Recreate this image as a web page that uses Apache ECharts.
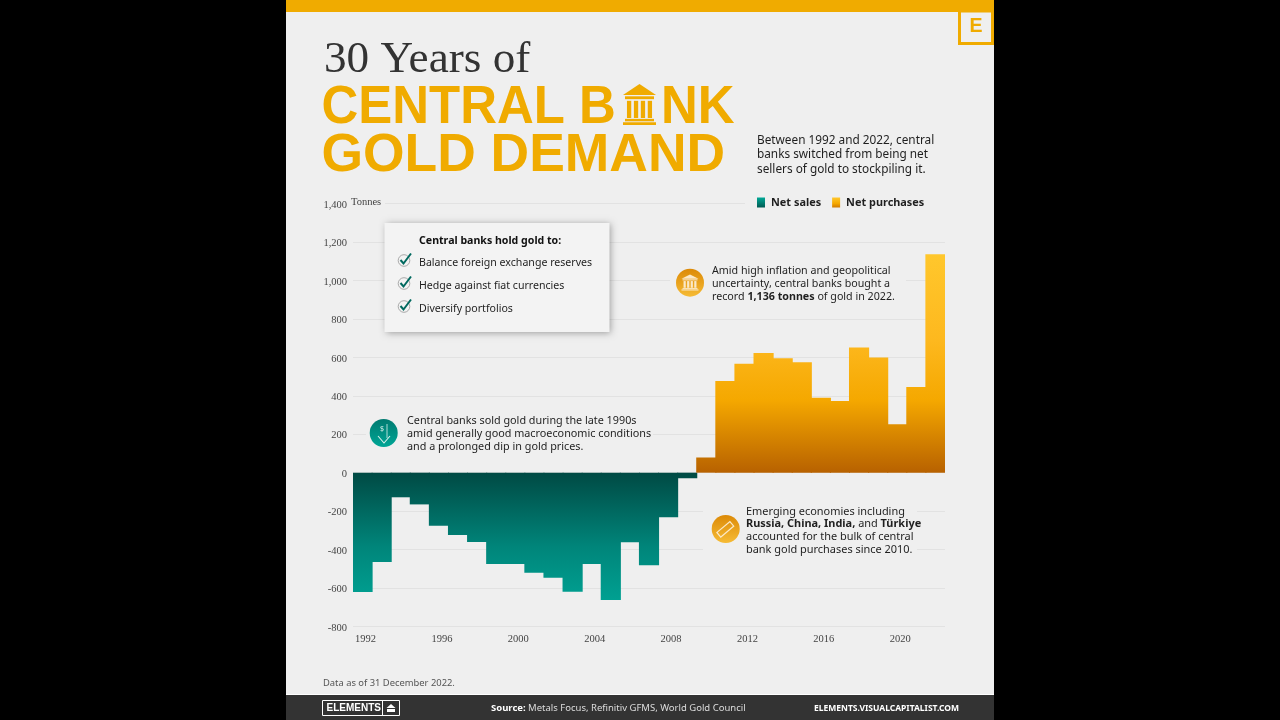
<!DOCTYPE html>
<html><head><meta charset="utf-8">
<style>html,body{margin:0;padding:0;background:#000;width:1280px;height:720px;overflow:hidden}#c{width:1280px;height:720px}</style>
<script src="https://cdn.jsdelivr.net/npm/echarts@6/dist/echarts.min.js"></script>
</head><body><div id="c"></div>
<script>
const years = ['1992','1993','1994','1995','1996','1997','1998','1999','2000','2001','2002','2003','2004','2005','2006','2007','2008','2009','2010','2011','2012','2013','2014','2015','2016','2017','2018','2019','2020','2021','2022'];
const netSales = [-621,-465,-128,-165,-276,-324,-361,-475,-475,-520,-546,-619,-475,-662,-362,-482,-232,-29,null,null,null,null,null,null,null,null,null,null,null,null,null];
const netPurchases = [null,null,null,null,null,null,null,null,null,null,null,null,null,null,null,null,null,null,79,477,566,623,595,575,390,373,651,599,252,446,1136];
const yMin = -800, yMax = 1400, yStep = 200;

const GOLD = '#f0ab00', SANS = '"Noto Sans"', SERIF = '"Liberation Serif"', BG = '#efefef';
const grad = (x1, y1, x2, y2, stops, global) => new echarts.graphic.LinearGradient(x1, y1, x2, y2, stops.map(s => ({offset: s[0], color: s[1]})), global);

const t = (x, y, text, size, color, extra) => ({type:'text', x, y, z:60, silent:true,
  style:Object.assign({text, fontSize:size, fill:color, fontFamily:SANS, textVerticalAlign:'middle', textAlign:'left'}, extra||{})});
const r = (x, y, w, h, fill, extra) => Object.assign({type:'rect', z:50, silent:true, shape:{x, y, width:w, height:h}, style:{fill}}, extra||{});

function bankIcon(cx, top, w, h, color, z) {
  const out = [];
  const x0 = cx - w/2;
  out.push({type:'polygon', z, silent:true, shape:{points:[[cx, top],[x0+w, top+h*0.27],[x0, top+h*0.27]]}, style:{fill:color}});
  out.push(r(x0+w*0.06, top+h*0.3, w*0.88, h*0.07, color, {z}));
  const n = 4, cw = w*0.13;
  for (let i = 0; i < n; i++) out.push(r(x0+w*0.12+i*(w*0.76-cw)/(n-1), top+h*0.41, cw, h*0.42, color, {z}));
  out.push(r(x0+w*0.06, top+h*0.85, w*0.88, h*0.06, color, {z}));
  out.push(r(x0, top+h*0.93, w, h*0.07, color, {z}));
  return out;
}
function check(x, y) {
  return [
    {type:'circle', z:62, silent:true, shape:{cx:x, cy:y+0.5, r:5.8}, style:{fill:'none', stroke:'#a9a9a9', lineWidth:1}},
    {type:'polyline', z:63, silent:true, shape:{points:[[x-3.5,y],[x-0.5,y+3.5],[x+7,y-6.5]]}, style:{fill:'none', stroke:'#00695f', lineWidth:2}}
  ];
}
const warm = grad(0,1,0,0,[[0,'#f6bb35'],[1,'#dc8a07']]);
const warmCircle = (x,y) => ({type:'circle', z:55, silent:true, shape:{cx:x, cy:y, r:14}, style:{fill:warm}});

const graphics = [
  r(286,0,708,720,BG,{z:-10}),
  r(286,0,708,12,GOLD),
  r(959.5,11,33,32.5,'none',{style:{fill:'none',stroke:GOLD,lineWidth:3}}),
  t(976,27,'E',19.5,GOLD,{fontWeight:'bold',fontFamily:'"Liberation Sans"',textAlign:'center'}),
  t(324,60.5,'30 Years of',45.2,'#333333',{fontFamily:'"Liberation Serif"'}),
  Object.assign(t(321.5,107.5,'CENTRAL B',54.5,GOLD,{fontWeight:'bold',fontFamily:'"Liberation Sans"'}),{scaleX:0.935}),
  Object.assign(t(661,107.5,'NK',54.5,GOLD,{fontWeight:'bold',fontFamily:'"Liberation Sans"'}),{scaleX:0.935}),
  Object.assign(t(321.5,155.5,'GOLD DEMAND',54.5,GOLD,{fontWeight:'bold',fontFamily:'"Liberation Sans"'}),{scaleX:0.98}),
  ...bankIcon(639.5,84,33,41,GOLD,55),
  t(757,155,'Between 1992 and 2022, central\nbanks switched from being net\nsellers of gold to stockpiling it.',11.8,'#1f1f1f',{lineHeight:14.3}),

  // break the 1,400 gridline and the gridlines behind the notes
  r(353,198,32,10,BG,{z:20}), r(745,198,205,10,BG,{z:20}),
  r(366,410,287,46,BG,{z:20}),
  r(670,262,236,44,BG,{z:20}),
  r(703,502,214,56,BG,{z:20}),
  t(351,202.5,'Tonnes',10.5,'#444444',{fontFamily:'"Liberation Serif"'}),

  // box
  r(384.5,223,225,109,'#f3f3f3',{z:40,style:{fill:'#f3f3f3',shadowBlur:7,shadowColor:'rgba(0,0,0,0.35)',shadowOffsetX:1,shadowOffsetY:1}}),
  t(419,241,'Central banks hold gold to:',10.6,'#111111',{fontWeight:'bold'}),
  t(419,263,'Balance foreign exchange reserves',10.6,'#1f1f1f'),
  t(419,286,'Hedge against fiat currencies',10.6,'#1f1f1f'),
  t(419,309,'Diversify portfolios',10.6,'#1f1f1f'),
  ...check(404,260),...check(404,283),...check(404,306),

  // notes
  {type:'circle', z:55, silent:true, shape:{cx:383.7, cy:433, r:14}, style:{fill:grad(0,1,0,0,[[0,'#00a696'],[1,'#007a70']])}},
  {type:'polyline', z:56, silent:true, shape:{points:[[378,436],[384,443],[390,436]]}, style:{fill:'none',stroke:'#d8f0ec',lineWidth:1.1}},
  {type:'polyline', z:56, silent:true, shape:{points:[[387,424],[387,438]]}, style:{fill:'none',stroke:'#d8f0ec',lineWidth:0.8}},
  t(382,429,'$',7,'#d8f0ec',{textAlign:'center'}),
  t(407,434,'Central banks sold gold during the late 1990s\namid generally good macroeconomic conditions\nand a prolonged dip in gold prices.',10.8,'#1f1f1f',{lineHeight:13}),
  warmCircle(690,282.7),
  ...bankIcon(690,274.5,17,16,'#fbe9c8',56),
  {type:'text', x:712, y:284, z:60, silent:true, style:{
    rich:{b:{fontWeight:'bold',fontFamily:SANS,fontSize:10.7,fill:'#1f1f1f',lineHeight:13},n:{fontFamily:SANS,fontSize:10.7,fill:'#1f1f1f',lineHeight:13}},
    text:'{n|Amid high inflation and geopolitical}\n{n|uncertainty, central banks bought a}\n{n|record }{b|1,136 tonnes}{n| of gold in 2022.}',
    textVerticalAlign:'middle'}},
  warmCircle(725.7,529),
  {type:'polygon', z:56, silent:true, rotation:0.7, x:725.7, y:529, shape:{points:[[-9,-3],[8,-3],[8,3],[-9,3]]}, style:{fill:'none',stroke:'#fbe9c8',lineWidth:1.2}},
  {type:'text', x:746, y:530.5, z:60, silent:true, style:{
    rich:{b:{fontWeight:'bold',fontFamily:SANS,fontSize:10.95,fill:'#1f1f1f',lineHeight:12.7},n:{fontFamily:SANS,fontSize:10.95,fill:'#1f1f1f',lineHeight:12.7}},
    text:'{n|Emerging economies including}\n{b|Russia, China, India,}{n| and }{b|Türkiye}\n{n|accounted for the bulk of central}\n{n|bank gold purchases since 2010.}',
    textVerticalAlign:'middle'}},

  t(323,683,'Data as of 31 December 2022.',9.4,'#555555'),
  // footer
  r(286,694,708,1,'#ffffff'),
  r(286,695,708,25,'#333333'),
  r(322.5,700.5,77,15,'none',{style:{fill:'none',stroke:'#ffffff',lineWidth:1}}),
  r(382,700.5,1,15,'#ffffff'),
  t(326.5,708.5,'ELEMENTS',10,'#ffffff',{fontWeight:'bold',fontFamily:'"Liberation Sans"'}),
  {type:'polygon', z:56, silent:true, shape:{points:[[391,704],[395.5,708],[386.5,708]]}, style:{fill:'#ffffff'}},
  r(387,709,8,3,'#ffffff'),
  {type:'text', x:491, y:708.5, z:60, silent:true, style:{
    rich:{b:{fontWeight:'bold',fontFamily:SANS,fontSize:9.5,fill:'#ffffff'},n:{fontFamily:SANS,fontSize:9.5,fill:'#dddddd'}},
    text:'{b|Source:}{n| Metals Focus, Refinitiv GFMS, World Gold Council}', textVerticalAlign:'middle'}},
  t(814,708.5,'ELEMENTS.VISUALCAPITALIST.COM',8.5,'#ffffff',{fontWeight:'bold'})
];

const chart = echarts.init(document.getElementById('c'), null, {renderer:'canvas', width:1280, height:720});
chart.setOption({
  animation:false,
  backgroundColor:'#000000',
  grid:{left:353, right:335, top:203.5, bottom:93.5, containLabel:false},
  legend:{left:757, top:197, padding:0, itemWidth:8, itemHeight:10, itemGap:11, selectedMode:false, icon:'rect', z:70,
    textStyle:{fontFamily:SANS, fontWeight:'bold', fontSize:10.9, color:'#1f1f1f', padding:[0,0,0,1]},
    data:[
      {name:'Net sales', itemStyle:{color:grad(0,0,0,1,[[0,'#00a896'],[1,'#005a52']])}},
      {name:'Net purchases', itemStyle:{color:grad(0,0,0,1,[[0,'#ffc72c'],[0.6,'#f5a800'],[1,'#d07a00']])}}
    ]},
  xAxis:{type:'category', data:years, boundaryGap:true,
    axisLine:{show:false, onZero:false}, axisTick:{show:false}, splitLine:{show:false},
    axisLabel:{interval:3, margin:7, fontFamily:SERIF, fontSize:10.5, color:'#444444', padding:[0,0,0,6], hideOverlap:false}},
  yAxis:{type:'value', min:yMin, max:yMax, interval:yStep,
    axisLine:{show:false}, axisTick:{show:false},
    axisLabel:{margin:6, formatter:v => '{a|' + v.toLocaleString('en-US') + '}',
      rich:{a:{fontFamily:SERIF, fontSize:10.5, color:'#444444', padding:[3,0,0,0]}}},
    splitLine:{show:true, lineStyle:{color:'#e2e2e2', width:1}}},
  series:[
    {name:'Net sales', type:'bar', stack:'gold', barWidth:'105.5%', data:netSales, z:10,
      itemStyle:{color:grad(0,473,0,620,[[0,'#004a44'],[0.5,'#00857a'],[1,'#00aa9a']],true)}},
    {name:'Net purchases', type:'bar', stack:'gold', barWidth:'105.5%', data:netPurchases, z:10,
      itemStyle:{color:grad(0,472,0,254,[[0,'#b86200'],[0.33,'#f5a800'],[0.6,'#fdb81e'],[1,'#ffc72c']],true)}}
  ],
  graphic:{elements:graphics}
});
</script></body></html>
